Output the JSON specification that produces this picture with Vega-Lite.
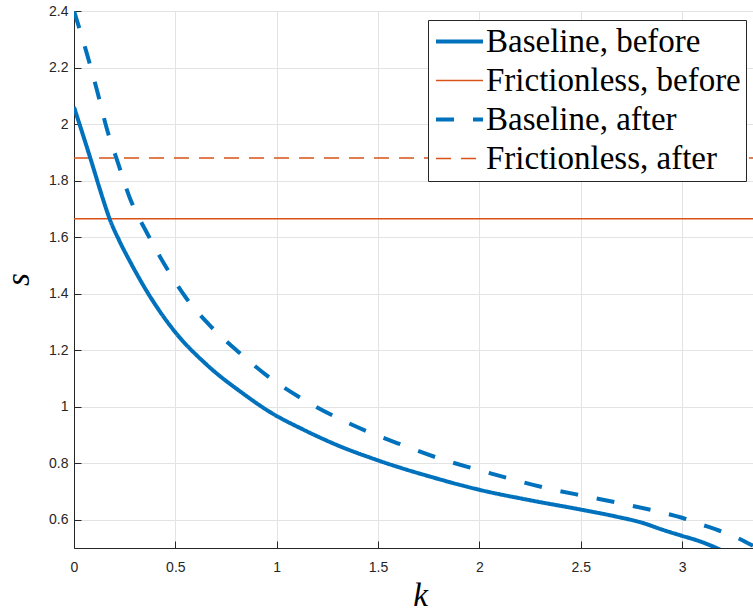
{
  "$schema": "https://vega.github.io/schema/vega-lite/v6.json",
  "width": 679,
  "height": 537,
  "autosize": {"type": "none"},
  "padding": {"left": 74, "top": 11, "right": 0, "bottom": 63},
  "background": "white",
  "config": {
    "view": {"stroke": null},
    "axis": {
      "labelFont": "Liberation Sans",
      "labelFontSize": 14,
      "labelColor": "#262626",
      "labelFlush": false,
      "domainColor": "#262626",
      "domainWidth": 1,
      "tickColor": "#262626",
      "tickSize": -7,
      "gridColor": "#e3e3e3",
      "gridWidth": 1,
      "titleFont": "Liberation Serif",
      "titleFontStyle": "italic",
      "titleFontWeight": "normal",
      "titleFontSize": 33,
      "titleColor": "#000000"
    }
  },
  "data": {
    "values": [
      {"k": 0, "s": 1.665, "series": "Frictionless, before"},
      {"k": 3.35, "s": 1.665, "series": "Frictionless, before"},
      {"k": 0, "s": 1.88, "series": "Frictionless, after"},
      {"k": 3.35, "s": 1.88, "series": "Frictionless, after"},
      {"k": 0, "s": 2.06, "series": "Baseline, before"},
      {"k": 0.079, "s": 1.883, "series": "Baseline, before"},
      {"k": 0.145, "s": 1.73, "series": "Baseline, before"},
      {"k": 0.174, "s": 1.668, "series": "Baseline, before"},
      {"k": 0.225, "s": 1.585, "series": "Baseline, before"},
      {"k": 0.276, "s": 1.514, "series": "Baseline, before"},
      {"k": 0.375, "s": 1.39, "series": "Baseline, before"},
      {"k": 0.498, "s": 1.265, "series": "Baseline, before"},
      {"k": 0.654, "s": 1.149, "series": "Baseline, before"},
      {"k": 0.835, "s": 1.046, "series": "Baseline, before"},
      {"k": 0.967, "s": 0.981, "series": "Baseline, before"},
      {"k": 1.131, "s": 0.919, "series": "Baseline, before"},
      {"k": 1.295, "s": 0.865, "series": "Baseline, before"},
      {"k": 1.5, "s": 0.81, "series": "Baseline, before"},
      {"k": 1.755, "s": 0.753, "series": "Baseline, before"},
      {"k": 2.0, "s": 0.706, "series": "Baseline, before"},
      {"k": 2.265, "s": 0.667, "series": "Baseline, before"},
      {"k": 2.5, "s": 0.636, "series": "Baseline, before"},
      {"k": 2.676, "s": 0.611, "series": "Baseline, before"},
      {"k": 2.8, "s": 0.59, "series": "Baseline, before"},
      {"k": 2.906, "s": 0.564, "series": "Baseline, before"},
      {"k": 3.0, "s": 0.543, "series": "Baseline, before"},
      {"k": 3.078, "s": 0.526, "series": "Baseline, before"},
      {"k": 3.17, "s": 0.5, "series": "Baseline, before"},
      {"k": 3.2, "s": 0.49, "series": "Baseline, before"},
      {"k": 0, "s": 2.4, "series": "Baseline, after"},
      {"k": 0.066, "s": 2.243, "series": "Baseline, after"},
      {"k": 0.115, "s": 2.115, "series": "Baseline, after"},
      {"k": 0.161, "s": 1.986, "series": "Baseline, after"},
      {"k": 0.219, "s": 1.858, "series": "Baseline, after"},
      {"k": 0.273, "s": 1.743, "series": "Baseline, after"},
      {"k": 0.362, "s": 1.612, "series": "Baseline, after"},
      {"k": 0.454, "s": 1.494, "series": "Baseline, after"},
      {"k": 0.556, "s": 1.382, "series": "Baseline, after"},
      {"k": 0.679, "s": 1.281, "series": "Baseline, after"},
      {"k": 0.819, "s": 1.189, "series": "Baseline, after"},
      {"k": 0.963, "s": 1.104, "series": "Baseline, after"},
      {"k": 1.118, "s": 1.031, "series": "Baseline, after"},
      {"k": 1.284, "s": 0.966, "series": "Baseline, after"},
      {"k": 1.455, "s": 0.91, "series": "Baseline, after"},
      {"k": 1.629, "s": 0.862, "series": "Baseline, after"},
      {"k": 1.806, "s": 0.816, "series": "Baseline, after"},
      {"k": 1.987, "s": 0.778, "series": "Baseline, after"},
      {"k": 2.167, "s": 0.742, "series": "Baseline, after"},
      {"k": 2.348, "s": 0.709, "series": "Baseline, after"},
      {"k": 2.532, "s": 0.682, "series": "Baseline, after"},
      {"k": 2.717, "s": 0.655, "series": "Baseline, after"},
      {"k": 2.898, "s": 0.626, "series": "Baseline, after"},
      {"k": 3.0, "s": 0.607, "series": "Baseline, after"},
      {"k": 3.078, "s": 0.587, "series": "Baseline, after"},
      {"k": 3.17, "s": 0.565, "series": "Baseline, after"},
      {"k": 3.251, "s": 0.543, "series": "Baseline, after"},
      {"k": 3.35, "s": 0.508, "series": "Baseline, after"}
    ]
  },
  "encoding": {
    "x": {
      "field": "k", "type": "quantitative",
      "scale": {"domain": [0, 3.35], "nice": false, "zero": false},
      "axis": {
        "title": "k",
        "values": [0, 0.5, 1, 1.5, 2, 2.5, 3],
        "format": "~g",
        "labelPadding": 19,
        "titleX": 346,
        "titleY": 47,
        "titleBaseline": "middle",
        "titleAlign": "center"
      }
    },
    "y": {
      "field": "s", "type": "quantitative",
      "scale": {"domain": [0.5, 2.4], "nice": false, "zero": false},
      "axis": {
        "title": "s",
        "values": [0.6, 0.8, 1, 1.2, 1.4, 1.6, 1.8, 2, 2.2, 2.4],
        "format": "~g",
        "labelPadding": 13,
        "titleX": -46,
        "titleY": 268,
        "titleAngle": -90,
        "titleBaseline": "alphabetic",
        "titleAlign": "center"
      }
    },
    "color": {
      "field": "series", "type": "nominal",
      "scale": {
        "domain": ["Baseline, before", "Frictionless, before", "Baseline, after", "Frictionless, after"],
        "range": ["#0072BD", "#D95319", "#0072BD", "#D95319"]
      },
      "legend": {
        "title": null,
        "orient": "none",
        "legendX": 354,
        "legendY": 9,
        "symbolType": "M-1.74,0H1.74",
        "symbolSize": 729,
        "symbolOffset": 10,
        "labelFont": "Liberation Serif",
        "labelFontSize": 33,
        "labelColor": "#000000",
        "labelLimit": 400,
        "labelOffset": 10,
        "strokeColor": "#262626",
        "fillColor": "white",
        "padding": 5,
        "rowPadding": 5
      }
    },
    "strokeDash": {
      "field": "series", "type": "nominal",
      "scale": {
        "domain": ["Baseline, before", "Frictionless, before", "Baseline, after", "Frictionless, after"],
        "range": [[1, 0], [1, 0], [18, 19], [15, 10]]
      },
      "legend": {"title": null}
    },
    "strokeWidth": {
      "field": "series", "type": "nominal",
      "scale": {
        "type": "ordinal",
        "domain": ["Baseline, before", "Frictionless, before", "Baseline, after", "Frictionless, after"],
        "range": [4, 1.5, 4, 1.5]
      },
      "legend": {"title": null}
    }
  },
  "layer": [
    {
      "transform": [{"filter": "indexof(datum.series, 'Frictionless') >= 0"}],
      "mark": {"type": "line", "clip": true}
    },
    {
      "transform": [{"filter": "indexof(datum.series, 'Baseline') >= 0"}],
      "mark": {"type": "line", "clip": true, "interpolate": "monotone"}
    }
  ]
}
